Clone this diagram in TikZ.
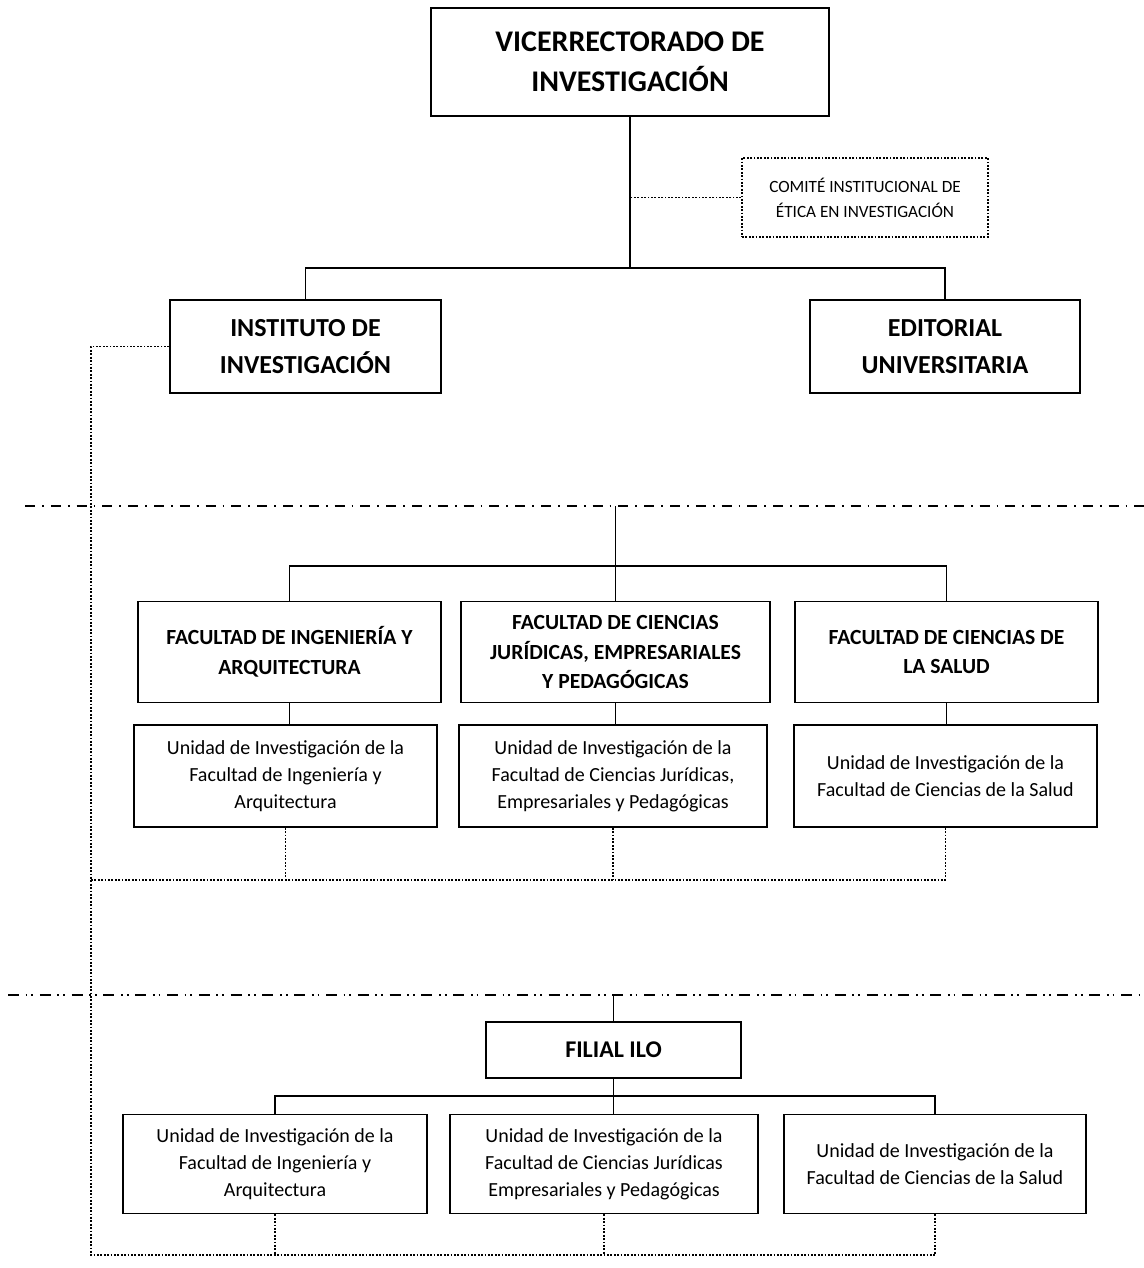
\documentclass[tikz,border=0pt]{standalone}
\usepackage{fontspec}
\setmainfont{Carlito}
\begin{document}
\begin{tikzpicture}[x=0.5pt,y=-0.5pt,
  box/.style={draw, line width=0.8pt, align=center, inner sep=0pt},
  bigbold/.style={font=\fontsize{15}{20}\selectfont\bfseries},
  midbold/.style={font=\fontsize{13}{18.5}\selectfont\bfseries},
  facbold/.style={font=\fontsize{10.8}{14.8}\selectfont\bfseries},
  unitxt/.style={font=\fontsize{10}{13.5}\selectfont},
  comtxt/.style={font=\fontsize{8.6}{12.5}\selectfont},
  conn/.style={line width=0.75pt},
  dotline/.style={line width=0.8pt, dash pattern=on 0.9pt off 0.8pt},
  sepA/.style={line width=0.8pt, dash pattern=on 5pt off 3.5pt on 0.9pt off 3.5pt},
  sepB/.style={line width=0.8pt, dash pattern=on 5.5pt off 3.3pt on 0.9pt off 2pt on 0.9pt off 3.3pt}]
\path[fill=white] (0,0) rectangle (1144,1268);
\useasboundingbox (0,0) rectangle (1144,1268);

% top level
\node[box, bigbold, minimum width=199pt, minimum height=54pt] (vr) at (630,62) {VICERRECTORADO DE\\INVESTIGACIÓN};
\node[box, comtxt, dotline, minimum width=123pt, minimum height=39.5pt] (com) at (865,197.5) {COMITÉ INSTITUCIONAL DE\\ÉTICA EN INVESTIGACIÓN};
\node[box, midbold, minimum width=135.5pt, minimum height=46.5pt] (inst) at (305.5,346.5) {INSTITUTO DE\\INVESTIGACIÓN};
\node[box, midbold, minimum width=135pt, minimum height=46.5pt] (edit) at (945,346.5) {EDITORIAL\\UNIVERSITARIA};

% faculties
\node[box, facbold, minimum width=151.5pt, minimum height=50.5pt] (fa) at (289.5,652) {FACULTAD DE INGENIERÍA Y\\ARQUITECTURA};
\node[box, facbold, minimum width=154.5pt, minimum height=50.5pt] (fb) at (615.5,652) {FACULTAD DE CIENCIAS\\JURÍDICAS, EMPRESARIALES\\Y PEDAGÓGICAS};
\node[box, facbold, minimum width=151.5pt, minimum height=50.5pt] (fc) at (946.5,652) {FACULTAD DE CIENCIAS DE\\LA SALUD};

\node[box, unitxt, minimum width=151.5pt, minimum height=51pt] (u1) at (285.5,776) {Unidad de Investigación de la\\Facultad de Ingeniería y\\Arquitectura};
\node[box, unitxt, minimum width=154pt, minimum height=51pt] (u2) at (613,776) {Unidad de Investigación de la\\Facultad de Ciencias Jurídicas,\\Empresariales y Pedagógicas};
\node[box, unitxt, minimum width=151.5pt, minimum height=51pt] (u3) at (945.5,776) {Unidad de Investigación de la\\Facultad de Ciencias de la Salud};

% filial
\node[box, font=\fontsize{12}{15}\selectfont\bfseries, minimum width=127.5pt, minimum height=28pt] (fil) at (613.5,1050) {FILIAL ILO};
\node[box, unitxt, minimum width=152pt, minimum height=49.5pt] (bu1) at (275,1164) {Unidad de Investigación de la\\Facultad de Ingeniería y\\Arquitectura};
\node[box, unitxt, minimum width=154pt, minimum height=49.5pt] (bu2) at (604,1164) {Unidad de Investigación de la\\Facultad de Ciencias Jurídicas\\Empresariales y Pedagógicas};
\node[box, unitxt, minimum width=151pt, minimum height=49.5pt] (bu3) at (935,1164) {Unidad de Investigación de la\\Facultad de Ciencias de la Salud};

% separators
\coordinate (d1l) at (25,506);
\coordinate (d1r) at (1144,506);
\coordinate (d2l) at (8,995);
\coordinate (d2r) at (1140,995);
\draw[sepA] (d1l) -- (d1r);
\draw[sepB] (d2l) -- (d2r);

% top connectors
\coordinate (b1) at (630,268);
\draw[conn] (vr.south) -- (b1);
\draw[conn] (inst.north) |- (b1) -| (edit.north);
\draw[dotline] (com.west) -- (com.west -| vr.south);

% faculty connectors
\coordinate (b2) at (615.5,566);
\draw[conn] (d1l -| fb.north) -- (fb.north);
\draw[conn] (fa.north) |- (b2) -| (fc.north);
\draw[conn] (fa.south) -- (fa.south |- u1.north);
\draw[conn] (fb.south) -- (fb.south |- u2.north);
\draw[conn] (fc.south) -- (fc.south |- u3.north);

% filial connectors
\coordinate (b3) at (613.5,1096);
\draw[conn] (d2l -| fil.north) -- (fil.north);
\draw[conn] (fil.south) -- (fil.south |- bu2.north);
\draw[conn] (bu1.north) |- (b3) -| (bu3.north);

% dotted coordination lines
\coordinate (lm) at (91,880);
\coordinate (lb) at (91,1255);
\draw[dotline] (inst.west) -| (lb) -- (lb -| bu3.south);
\draw[dotline] (lm) -- (lm -| u3.south);
\draw[dotline] (u1.south) -- (u1.south |- lm);
\draw[dotline] (u2.south) -- (u2.south |- lm);
\draw[dotline] (u3.south) -- (u3.south |- lm);
\draw[dotline] (bu1.south) -- (bu1.south |- lb);
\draw[dotline] (bu2.south) -- (bu2.south |- lb);
\draw[dotline] (bu3.south) -- (bu3.south |- lb);
\end{tikzpicture}
\end{document}
